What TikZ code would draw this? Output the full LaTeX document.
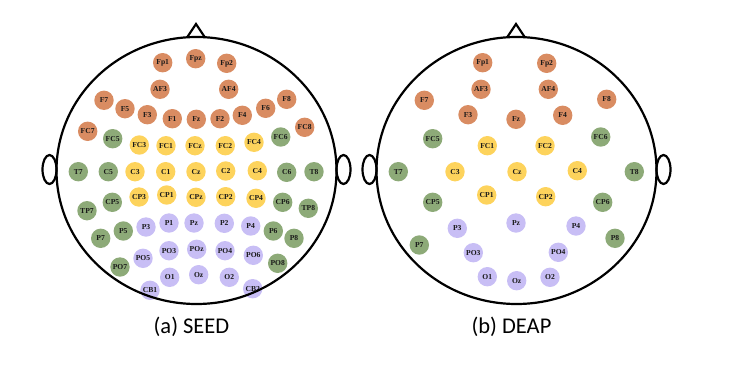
\documentclass[tikz,border=0pt]{standalone}
\usepackage{fontspec}
\newfontfamily\elfont{Liberation Serif}
\newfontfamily\capfont{Carlito}
\definecolor{eo}{HTML}{D98C62}
\definecolor{ey}{HTML}{FDD35C}
\definecolor{eg}{HTML}{8DAA78}
\definecolor{ep}{HTML}{C8BEF5}
\begin{document}
\begin{tikzpicture}[x=1pt,y=-1pt,
  el/.style={circle, minimum size=19.4pt, inner sep=0pt, draw=none,
    font=\elfont\bfseries\fontsize{7.6}{8}\selectfont, text=black!90},
  headline/.style={line width=2.2pt, black},
  caption/.style={font=\capfont\fontsize{22.5}{26}\selectfont, text=black}]
\useasboundingbox (0,0) rectangle (738,364);
% ---------- SEED electrodes ----------
\foreach \n/\x/\y/\c in {
 Fp1/162.7/62.7/eo, Fpz/195.7/58.7/eo, Fp2/226.7/63.3/eo,
 AF3/160/89.3/eo, AF4/228.7/89.3/eo,
 F7/104/100.3/eo, F5/125/108.7/eo, F3/147.3/114.7/eo, F1/172.3/118.7/eo,
 Fz/196.3/119.3/eo, F2/220/118.7/eo, F4/242.3/115.3/eo, F6/265.7/108.3/eo,
 F8/286.7/99.3/eo, FC7/87.7/131.3/eo, FC8/304.7/127.3/eo,
 FC5/112.7/138.7/eg, FC6/280.7/137/eg,
 FC3/139.3/145/ey, FC1/166/145.7/ey, FCz/195/145.7/ey, FC2/225.3/145.7/ey, FC4/254/142.3/ey,
 T7/78.3/171.7/eg, C5/108.3/171.7/eg,
 C3/135/171.7/ey, C1/165.7/171.7/ey, Cz/196/171.7/ey, C2/225.7/171/ey, C4/257.3/170.7/ey,
 C6/286.7/172.3/eg, T8/314/171.7/eg,
 TP7/87/210.7/eg, CP5/112.3/202.3/eg,
 CP3/139/197/ey, CP1/166.7/195/ey, CPz/196/197.3/ey, CP2/225.7/196.7/ey, CP4/256/198.3/ey,
 CP6/282.7/202.3/eg, TP8/308.3/208.3/eg,
 P7/100.7/238.3/eg, P5/123.3/231/eg,
 P3/146/227/ep, P1/169/223/ep, Pz/194/223/ep, P2/224.3/223.3/ep, P4/250.7/226/ep,
 P6/273.3/231/eg, P8/294/238.3/eg,
 PO7/120/267/eg,
 PO5/143/258.3/ep, PO3/169/250.7/ep, POz/196.7/249.3/ep, PO4/225/250.7/ep, PO6/253.3/255.3/ep,
 PO8/277.7/263.3/eg,
 O1/169.7/277.3/ep, Oz/198.7/274.7/ep, O2/229.3/277.3/ep,
 CB1/150/290.3/ep, CB2/252.7/288.7/ep}
 \node[el, fill=\c] (s\n) at (\x,\y) {\n};
% ---------- DEAP electrodes ----------
\foreach \n/\x/\y/\c in {
 Fp1/482.7/62.7/eo, Fp2/546.7/63.3/eo,
 AF3/481/89.3/eo, AF4/548.3/89.3/eo,
 F7/424.3/100.3/eo, F3/468/114.7/eo, Fz/516/119.3/eo, F4/562.7/115.3/eo, F8/606.7/99.3/eo,
 FC5/432.7/138.7/eg, FC1/487.3/145.7/ey, FC2/545/145.7/ey, FC6/600.7/137/eg,
 T7/398.3/171.7/eg, C3/455/171.7/ey, Cz/517/171.7/ey, C4/577.3/170.7/ey, T8/634.3/171.7/eg,
 CP5/432.7/202.3/eg, CP1/486.7/195/ey, CP2/545.7/196.7/ey, CP6/602.7/202.3/eg,
 P7/419.3/245/eg, P3/457.3/228.3/ep, Pz/516/223/ep, P4/576/226/ep, P8/615/238.3/eg,
 PO3/473.3/252.7/ep, PO4/558.3/252.3/ep,
 O1/487.3/276.7/ep, Oz/516.7/280.7/ep, O2/550/277.3/ep}
 \node[el, fill=\c] (d\n) at (\x,\y) {\n};
% ---------- heads ----------
\foreach \cx/\h in {196.5/s, 516.5/d}{
  \draw[headline] (\cx-147,169.5) ellipse [x radius=7pt, y radius=14.5pt];
  \draw[headline] (\cx+147,169.5) ellipse [x radius=7pt, y radius=14.5pt];
  \draw[headline, line join=miter] (\cx-9.5,37.5) -- (\cx-0.5,24) -- (\cx+8.5,37.5);
  \draw[headline] (\cx,170.5) ellipse [x radius=140pt, y radius=133.5pt];
}
% ---------- captions ----------
\node[caption] (capa) at (191.5,327) {(a) SEED};
\node[caption] (capb) at (511.5,327) {(b) DEAP};
\end{tikzpicture}
\end{document}
